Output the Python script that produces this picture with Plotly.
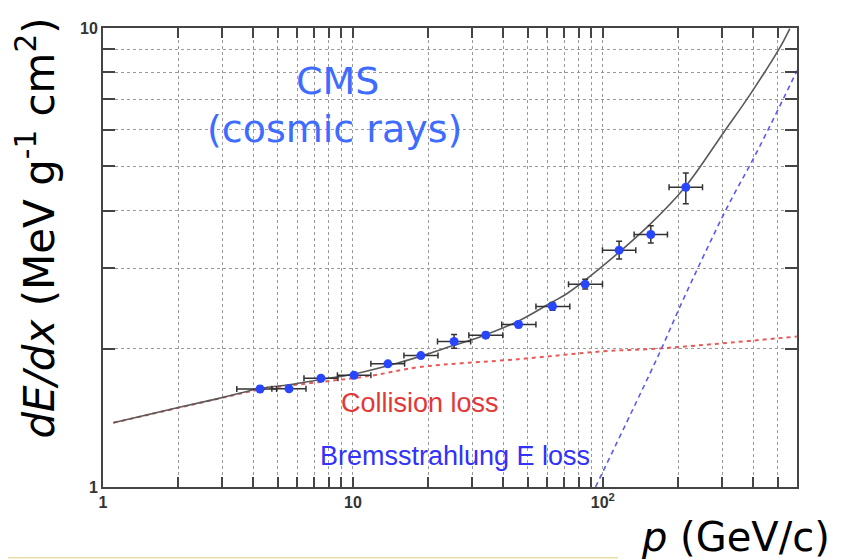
import numpy as np
import plotly.graph_objects as go

# ---- data ----
p_data = [4.25, 5.55, 7.45, 10.1, 13.8, 18.7, 25.4, 34.0, 46.0, 62.9, 85.0, 116.2, 155.6, 214.8]
dedx_data = [1.635, 1.637, 1.726, 1.752, 1.855, 1.933, 2.075, 2.142, 2.259, 2.474, 2.766, 3.281, 3.550, 4.498]
p_lo = [3.43, 4.74, 6.37, 8.67, 11.8, 16.0, 21.8, 29.1, 39.4, 54.0, 72.9, 99.7, 133.4, 184.1]
p_hi = [4.95, 6.49, 8.71, 11.8, 16.1, 21.9, 29.6, 39.8, 54.0, 73.8, 99.7, 135.5, 181.4, 250.5]
dedx_lo = [1.611, 1.621, 1.709, 1.735, 1.837, 1.914, 2.005, 2.111, 2.226, 2.426, 2.699, 3.139, 3.399, 4.143]
dedx_hi = [1.659, 1.653, 1.743, 1.769, 1.873, 1.952, 2.148, 2.174, 2.293, 2.523, 2.835, 3.430, 3.707, 4.830]

p_total = [1.1, 2.0, 3.0, 4.25, 5.55, 7.45, 10, 15, 20, 25, 32, 46, 62, 72, 97, 154, 214, 303, 387, 511, 560]
dedx_total = [1.38, 1.49, 1.566, 1.64, 1.67, 1.715, 1.76, 1.86, 1.95, 2.03, 2.12, 2.30, 2.52, 2.64, 2.99, 3.73, 4.51, 5.90, 7.14, 9.06, 9.97]

p_coll = [1.1, 2.03, 3.03, 4.25, 11.7, 18.5, 46.6, 100, 169, 597]
dedx_coll = [1.38, 1.49, 1.566, 1.63, 1.746, 1.825, 1.90, 1.975, 2.004, 2.127]

p_brems = [93.5, 169, 209, 312.6, 412, 599]
dedx_brems = [1.0, 1.965, 2.55, 4.04, 5.35, 8.08]

x_tickvals = [1, 2, 3, 4, 5, 6, 7, 8, 9, 10, 20, 30, 40, 50, 60, 70, 80, 90, 100, 200, 300, 400, 500]
x_ticktext = ["<b>1</b>"] + [""] * 8 + ["<b>10</b>"] + [""] * 8 + ["<b>10<sup>2</sup></b>"] + [""] * 4
y_tickvals = [1, 2, 3, 4, 5, 6, 7, 8, 9, 10]
y_ticktext = ["<b>1</b>"] + [""] * 8 + ["<b>10</b>"]

err_plus_x = np.array(p_hi) - np.array(p_data)
err_minus_x = np.array(p_data) - np.array(p_lo)
err_plus_y = np.array(dedx_hi) - np.array(dedx_data)
err_minus_y = np.array(dedx_data) - np.array(dedx_lo)

fig = go.Figure()
fig.add_trace(go.Scatter(x=p_coll, y=dedx_coll, mode="lines",
                         line=dict(color="rgb(232,90,90)", width=2, dash="4px,4px", shape="spline"),
                         hoverinfo="skip", showlegend=False))
fig.add_trace(go.Scatter(x=p_brems, y=dedx_brems, mode="lines",
                         line=dict(color="rgb(90,90,240)", width=1.6, dash="5px,4px", shape="spline"),
                         hoverinfo="skip", showlegend=False))
fig.add_trace(go.Scatter(x=p_total, y=dedx_total, mode="lines",
                         line=dict(color="#5a5a5a", width=1.6, shape="spline"),
                         hoverinfo="skip", showlegend=False))
fig.add_trace(go.Scatter(x=p_data, y=dedx_data, mode="markers",
                         marker=dict(color="rgb(40,70,255)", size=9),
                         error_x=dict(type="data", symmetric=False, array=err_plus_x, arrayminus=err_minus_x,
                                      color="#333333", thickness=1.5, width=3),
                         error_y=dict(type="data", symmetric=False, array=err_plus_y, arrayminus=err_minus_y,
                                      color="#333333", thickness=1.5, width=3),
                         showlegend=False))

tick_font = dict(family="Liberation Sans", size=16, color="#333333")
axis_common = dict(type="log", showline=True, linecolor="#444444", linewidth=2, mirror="allticks",
                   ticks="inside", tickcolor="#444444", tickwidth=1.5, tickangle=0,
                   showgrid=True, gridcolor="#9a9a9a", griddash="dot", gridwidth=1,
                   zeroline=False, tickmode="array")

fig.update_xaxes(**axis_common, range=[0, 2.777], tickvals=x_tickvals, ticktext=x_ticktext, ticklen=10,
                 tickfont=tick_font)
fig.update_yaxes(**axis_common, range=[0, 1], tickvals=y_tickvals, ticktext=y_ticktext, ticklen=12,
                 tickfont=tick_font)

fig.add_shape(type="rect", xref="paper", yref="paper", x0=0.003, x1=0.634, y0=0.692, y1=0.946,
              fillcolor="white", line=dict(width=0), layer="between")
fig.add_shape(type="line", xref="paper", yref="paper", x0=-0.1484, x1=0.742, y0=-0.1542, y1=-0.1542,
              line=dict(color="#eadca8", width=1.5))

comic = "DejaVu Sans"
def note(x, y, text, family, size, color, angle=0):
    fig.add_annotation(xref="paper", yref="paper", x=x, y=y, text=text, showarrow=False,
                       xanchor="center", yanchor="middle", textangle=angle,
                       font=dict(family=family, size=size, color=color))

note(0.3386, 0.884, "CMS", comic, 38, "#3d6cff")
note(0.334, 0.78, "(cosmic rays)", comic, 38, "#3d6cff")
note(0.4568, 0.184, "Collision loss", "Liberation Sans, Arial", 27, "rgb(228,55,55)")
note(0.507, 0.0685, "Bremsstrahlung E loss", "Liberation Sans, Arial", 27, "rgb(50,50,250)")
note(-0.0951, 0.563, "<i>dE/dx</i> (MeV g<sup>-1</sup> cm<sup>2</sup>)", comic, 42, "black", -90)
note(0.9107, -0.1092, "<i>p</i> (GeV/c)", comic, 40, "black")

# the page body has an 8px margin, so the figure is 8px smaller and margins are reduced by 8px
fig.update_layout(width=838, height=552, margin=dict(l=95, r=49, t=12, b=73),
                  plot_bgcolor="white", paper_bgcolor="white", showlegend=False)

fig.write_html("out.html")
